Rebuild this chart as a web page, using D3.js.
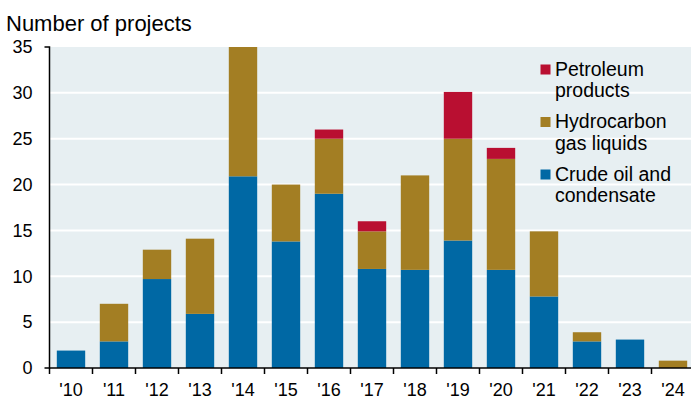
<!DOCTYPE html>
<html>
<head>
<meta charset="utf-8">
<script src="https://cdn.jsdelivr.net/npm/d3@7.9.0/dist/d3.min.js"></script>
<style>
  body { margin: 0; background: #fff; }
  svg { display: block; font-family: "Liberation Sans", Arial, sans-serif; }
</style>
</head>
<body>
<svg id="chart" width="691" height="402"></svg>
<script>
// values
const years = ["'10", "'11", "'12", "'13", "'14", "'15", "'16", "'17", "'18", "'19", "'20", "'21", "'22", "'23", "'24"];
const crude = [1.9, 2.9, 9.7, 5.9, 20.9, 13.8, 19, 10.8, 10.7, 13.9, 10.7, 7.8, 2.9, 3.1, 0];
const hgl = [0, 4.1, 3.2, 8.2, 14.1, 6.2, 6, 4.1, 10.3, 11.1, 12.1, 7.1, 1, 0, 0.8];
const petroleum = [0, 0, 0, 0, 0, 0, 1, 1.1, 0, 5.1, 1.2, 0, 0, 0, 0];
const yTicks = [0, 5, 10, 15, 20, 25, 30, 35];

const seriesKeys = ['crude', 'hgl', 'petroleum'];
const colors = { crude: '#0068a4', hgl: '#a37e23', petroleum: '#b90f31' };
const legendItems = [
  { key: 'petroleum', lines: ['Petroleum', 'products'] },
  { key: 'hgl', lines: ['Hydrocarbon', 'gas liquids'] },
  { key: 'crude', lines: ['Crude oil and', 'condensate'] },
];

const rows = years.map((yr, i) => ({ year: yr, crude: crude[i], hgl: hgl[i], petroleum: petroleum[i] }));
const stacked = d3.stack().keys(seriesKeys)(rows);

const svg = d3.select('#chart');
const mLeft = 49.5, mTop = 47, mBottom = 368;

const x = d3.scaleBand().domain(years).range([mLeft, mLeft + 43 * 15]).paddingInner(0.34).paddingOuter(0.17);
const y = d3.scaleLinear().domain([0, 35]).range([mBottom, mTop]);

// plot background
svg.append('rect')
  .attr('x', mLeft).attr('y', mTop)
  .attr('width', 691 - mLeft).attr('height', mBottom - mTop)
  .attr('fill', '#e7eff2');

// gridlines
svg.append('g')
  .selectAll('line')
  .data(yTicks.filter(d => d > 0 && d < 35))
  .join('line')
  .attr('x1', mLeft).attr('x2', 691)
  .attr('y1', d => y(d)).attr('y2', d => y(d))
  .attr('stroke', '#fff').attr('stroke-width', 2);

// bars
svg.append('g')
  .selectAll('g')
  .data(stacked)
  .join('g')
  .attr('fill', d => colors[d.key])
  .selectAll('rect')
  .data(d => d.filter(s => s[1] - s[0] > 0))
  .join('rect')
  .attr('x', d => x(d.data.year))
  .attr('width', x.bandwidth())
  .attr('y', d => y(d[1]))
  .attr('height', d => y(d[0]) - y(d[1]));

// y axis
const yAxis = d3.axisLeft(y).tickValues(yTicks).tickSize(0).tickPadding(17);
const gy = svg.append('g').attr('transform', `translate(${mLeft},0)`).call(yAxis);
gy.select('.domain').remove();
gy.selectAll('text').attr('font-size', 18).attr('fill', '#000').attr('font-family', 'Liberation Sans, Arial, sans-serif');
svg.append('path')
  .attr('d', `M${mLeft - 5},${mTop}H${mLeft}V${mBottom}H${mLeft - 5}`)
  .attr('fill', 'none').attr('stroke', '#000').attr('stroke-width', 1.5);

// x axis
const xAxis = d3.axisBottom(x).tickSize(0).tickPadding(15);
const gx = svg.append('g').attr('transform', `translate(0,${mBottom})`).call(xAxis);
gx.select('.domain').remove();
gx.selectAll('text').attr('font-size', 18).attr('fill', '#000').attr('font-family', 'Liberation Sans, Arial, sans-serif');
svg.append('line')
  .attr('x1', mLeft).attr('x2', 691).attr('y1', mBottom).attr('y2', mBottom)
  .attr('stroke', '#000').attr('stroke-width', 1.5);
svg.append('g')
  .selectAll('line')
  .data(years.map((d, i) => i))
  .join('line')
  .attr('x1', i => mLeft + i * x.step()).attr('x2', i => mLeft + i * x.step())
  .attr('y1', mBottom).attr('y2', mBottom + 6)
  .attr('stroke', '#000').attr('stroke-width', 1.5);

// unit label
svg.append('text')
  .attr('x', 6).attr('y', 31)
  .attr('font-size', 22)
  .text('Number of projects');

// legend
const legend = svg.append('g');
legendItems.forEach((item, i) => {
  const baseY = 75.5 + i * 52.5;
  legend.append('rect')
    .attr('x', 540.5).attr('y', baseY - 11)
    .attr('width', 10).attr('height', 10)
    .attr('fill', colors[item.key]);
  const t = legend.append('text').attr('x', 555).attr('y', baseY).attr('font-size', 19.5);
  item.lines.forEach((line, j) => {
    t.append('tspan').attr('x', 555).attr('dy', j === 0 ? 0 : 21.5).text(line);
  });
});
</script>
</body>
</html>
